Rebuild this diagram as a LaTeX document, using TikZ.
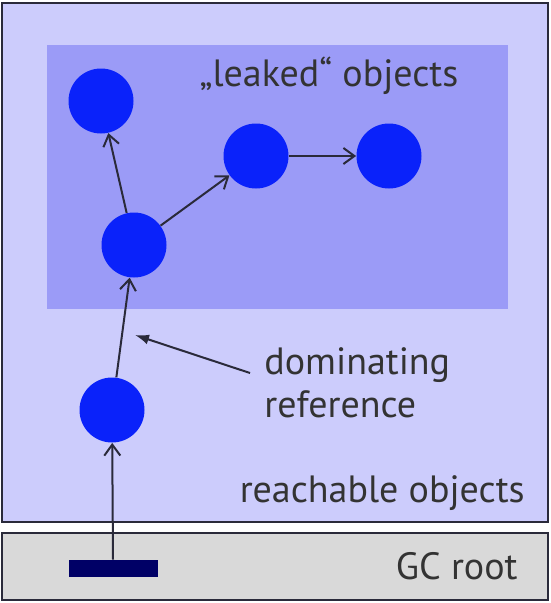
\documentclass[tikz,border=0pt]{standalone}
\usepackage{fontspec}
\setmainfont{PT Sans}
\usetikzlibrary{arrows.meta}

\definecolor{reachbg}{HTML}{CCCCFC}
\definecolor{leakbg}{HTML}{9B9BF7}
\definecolor{rootbg}{HTML}{D9D9D9}
\definecolor{objblue}{HTML}{0A22FA}
\definecolor{rootbar}{HTML}{000066}
\definecolor{linegray}{HTML}{2A2A3A}

\begin{document}
\begin{tikzpicture}[x=1pt, y=-1pt, thick,
  obj/.style={circle, fill=objblue, minimum size=65pt, inner sep=0pt},
  ref/.style={draw=linegray, line width=2pt, -{Straight Barb[length=11pt, width=16pt]}},
  lbl/.style={font=\fontsize{38}{43}\selectfont, text=black!80, align=left, inner sep=0pt}]
  \useasboundingbox (0,0) rectangle (550,603);

  % boxes
  \draw[fill=reachbg, draw=linegray, line width=1.5pt] (2,3) rectangle (548,522);
  \fill[leakbg] (47,45) rectangle (508,309);
  \draw[fill=rootbg, draw=linegray, line width=1.5pt] (2,533) rectangle (548,600);
  \node[fill=rootbar, minimum width=89pt, minimum height=17pt, inner sep=0pt] (R) at (113,568.5) {};

  % objects
  \node[obj] (A) at (101,101) {};
  \node[obj] (B) at (134,245) {};
  \node[obj] (C) at (256,156) {};
  \node[obj] (D) at (389,156) {};
  \node[obj] (E) at (112,410) {};

  % references
  \draw[ref] (R.north) to (E);
  \draw[ref] (E) to (B);
  \draw[ref] (B) to (A);
  \draw[ref] (B) to (C);
  \draw[ref] (C) to (D);

  % labels
  \node[lbl] (leaked) at (329,76) {„leaked“ objects};
  \node[lbl, anchor=west] (dom) at (264,383) {dominating\\reference};
  \node[lbl, anchor=east] (reach) at (525,493) {reachable objects};
  \node[lbl, anchor=east] (gc) at (518,566) {GC root};
  \coordinate (domtip) at (135,335);
  \draw[draw=linegray, line width=2pt, -{Latex[length=14pt, width=10pt]}] (250,373) -- (domtip);
\end{tikzpicture}
\end{document}
